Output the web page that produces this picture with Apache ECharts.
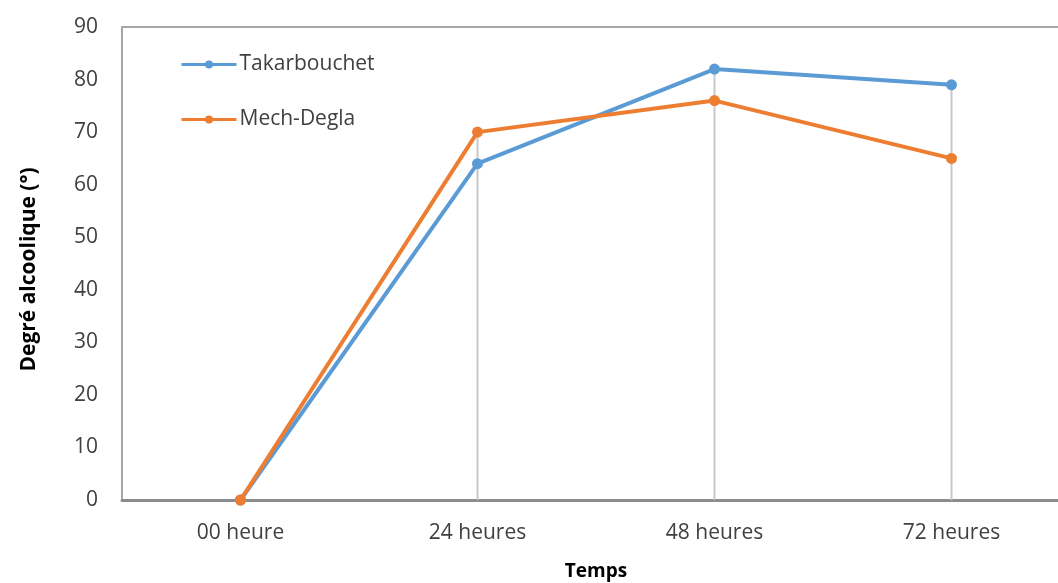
<!DOCTYPE html>
<html>
<head>
<meta charset="utf-8">
<script src="https://cdn.jsdelivr.net/npm/echarts@6/dist/echarts.min.js"></script>
<style>html,body{margin:0;padding:0;background:#fff;}#c{width:1058px;height:583px;}</style>
</head>
<body>
<div id="c"></div>
<script>
var categories = ['00 heure', '24 heures', '48 heures', '72 heures'];
var takarbouchet = [0, 64, 82, 79];
var mechDegla = [0, 70, 76, 65];
var yTicks = { min: 0, max: 90, interval: 10 };

var dropValues = categories.map(function (c, i) { return Math.max(takarbouchet[i], mechDegla[i]); });

var chart = echarts.init(document.getElementById('c'));
var font = '"Open Sans", sans-serif';
chart.setOption({
  animation: false,
  backgroundColor: '#fff',
  grid: { left: 122, top: 27, width: 948, height: 473, outerBoundsMode: 'none', containLabel: false,
          show: true, borderColor: '#a6a6a6', borderWidth: 2, backgroundColor: 'transparent' },
  legend: {
    orient: 'vertical', left: 180, top: 54, itemGap: 34, itemWidth: 55, itemHeight: 10, padding: 0,
    data: ['Takarbouchet', 'Mech-Degla'],
    lineStyle: { width: 3 },
    textStyle: { fontFamily: font, fontSize: 21, color: '#404040', padding: [0, 0, 0, -2] }
  },
  xAxis: {
    type: 'category', data: categories, boundaryGap: true,
    axisLine: { lineStyle: { color: '#8c8c8c', width: 3 } },
    axisTick: { show: false },
    axisLabel: { fontFamily: font, fontSize: 21, color: '#404040', margin: 23 },
    splitLine: { show: false },
    name: 'Temps', nameLocation: 'middle', nameGap: 62,
    nameTextStyle: { fontFamily: font, fontSize: 19, fontWeight: 'bold', color: '#000' }
  },
  yAxis: {
    type: 'value', min: yTicks.min, max: yTicks.max, interval: yTicks.interval,
    axisLine: { show: true, lineStyle: { color: '#a6a6a6', width: 2 } },
    axisTick: { show: false },
    splitLine: { show: false },
    axisLabel: { fontFamily: font, fontSize: 21, color: '#404040', margin: 24 },
    name: 'Degré alcoolique (°)', nameLocation: 'middle', nameGap: 82, nameRotate: 90,
    nameTextStyle: { fontFamily: font, fontSize: 21, fontWeight: 'bold', color: '#000', padding: [0, 0, 0, -12] }
  },
  series: [
    {
      name: 'drop', type: 'bar', data: dropValues, barWidth: 2, silent: true, z: 1,
      itemStyle: { color: '#c8c8c8' }
    },
    {
      name: 'Takarbouchet', type: 'line', data: takarbouchet, z: 3,
      symbol: 'circle', symbolSize: 11,
      lineStyle: { color: '#5b9bd5', width: 4 }, itemStyle: { color: '#5b9bd5' }
    },
    {
      name: 'Mech-Degla', type: 'line', data: mechDegla, z: 4,
      symbol: 'circle', symbolSize: 11,
      lineStyle: { color: '#ed7d31', width: 4 }, itemStyle: { color: '#ed7d31' }
    }
  ]
});
</script>
</body>
</html>
